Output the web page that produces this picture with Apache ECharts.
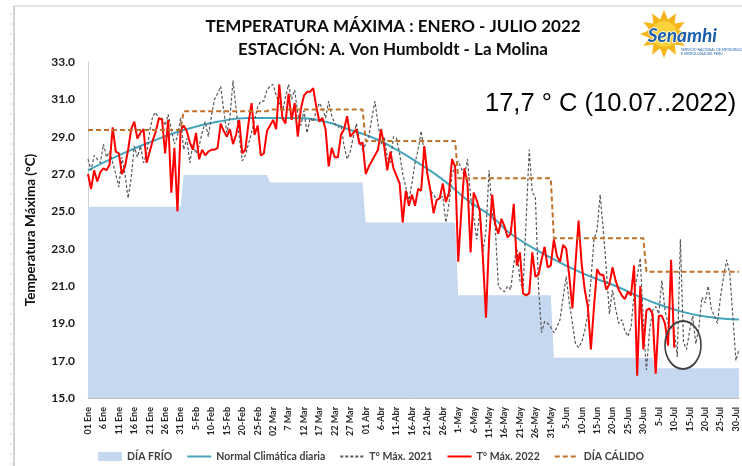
<!DOCTYPE html>
<html>
<head>
<meta charset="utf-8">
<script src="https://cdn.jsdelivr.net/npm/echarts@6/dist/echarts.min.js"></script>
<style>
  html, body { margin: 0; padding: 0; background: #fff; }
  #chart { width: 742px; height: 466px; }
</style>
</head>
<body>
<div id="chart"></div>
<script>
// etiquetas del eje x (cada 5 dias, 01 Ene .. 30 Jul)
var tickLabels = ['01 Ene', '6 Ene', '11 Ene', '16 Ene', '21 Ene', '26 Ene', '31 Ene',
  '5-Feb', '10-Feb', '15-Feb', '20-Feb', '25-Feb',
  '02 Mar', '7 Mar', '12 Mar', '17 Mar', '22 Mar', '27 Mar',
  '01 Abr', '6-Abr', '11-Abr', '16-Abr', '21-Abr', '26-Abr',
  '1-May', '6-May', '11-May', '16-May', '21-May', '26-May', '31-May',
  '5-Jun', '10-Jun', '15-Jun', '20-Jun', '25-Jun', '30-Jun',
  '5-Jul', '10-Jul', '15-Jul', '20-Jul', '25-Jul', '30-Jul'];
var nDays = 212; // 01 Ene .. 31 Jul

// T max 2022 (01 Ene .. 10 Jul)
var tmax2022 = [
  27.0, 26.2, 27.2, 26.6, 27.1, 27.3, 27.2, 27.5, 29.5, 28.2, 28.1, 27.0, 27.4, 28.3, 29.4, 29.8,
  28.9, 29.2, 29.4, 27.6, 28.2, 28.8, 29.3, 30.0, 29.9, 28.1, 29.9, 26.0, 28.4, 25.0, 29.3,
  29.6, 29.3, 28.7, 28.3, 29.2, 27.8, 28.3, 28.0, 28.2, 28.3, 28.3, 28.4, 29.7, 29.3, 29.0, 29.4,
  28.6, 29.1, 29.9, 28.1, 28.3, 29.7, 30.8, 29.1, 29.6, 28.0, 28.1, 29.3,
  29.6, 29.9, 29.4, 31.8, 30.0, 29.7, 31.3, 29.9, 30.8, 29.0, 30.5, 31.2, 31.4, 31.4, 31.6, 30.6,
  29.8, 30.0, 29.4, 27.4, 28.4, 27.9, 27.9, 29.1, 29.4, 30.1, 29.0, 29.2, 29.4, 28.6, 28.7,
  27.0, 27.4, 27.7, 28.0, 28.3, 29.4, 28.5, 27.2, 28.2, 27.3, 26.9, 26.5, 24.4, 26.1, 25.3,
  25.9, 25.3, 26.2, 26.1, 28.5, 27.0, 26.1, 24.9, 25.6, 25.7, 26.5, 25.5, 26.0, 27.8, 27.4,
  22.3, 25.0, 27.3, 26.5, 22.8, 26.0, 25.6, 25.0, 22.5, 19.3, 23.5, 25.9, 24.3, 23.8, 24.6, 24.2,
  23.6, 23.8, 25.4, 22.1, 22.8, 20.6, 20.5, 20.6, 22.8, 21.5, 21.6, 22.4, 23.1, 22.0, 22.1,
  23.5, 22.6, 22.3, 23.2, 23.0, 21.5, 19.8, 22.2, 24.5, 22.2, 20.8, 19.9, 17.6, 19.9, 21.9,
  21.6, 21.6, 20.8, 21.1, 22.0, 21.3, 20.8, 20.5, 20.3, 20.7, 20.5, 22.1, 16.2, 21.0, 17.6,
  19.7, 19.8, 19.5, 16.3, 19.4, 19.4, 19.0, 17.8, 22.4, 17.7
];

// T max 2021 (01 Ene .. 31 Jul)
var tmax2021 = [
  27.8, 27.2, 28.0, 27.8, 27.6, 28.6, 27.9, 28.2, 27.6, 27.0, 26.3, 27.9, 27.0, 25.7, 26.8, 28.5,
  27.9, 28.5, 27.6, 28.1, 29.3, 30.1, 30.3, 29.9, 30.0, 29.6, 30.2, 29.4, 28.6, 29.0, 30.0,
  28.3, 28.9, 27.6, 28.6, 28.1, 28.5, 29.2, 29.8, 29.0, 30.1, 31.0, 31.3, 31.7, 30.4, 29.2, 30.0,
  32.0, 30.5, 29.0, 27.7, 28.0, 28.6, 29.2, 29.9, 30.6, 30.9, 30.9, 31.5,
  31.7, 31.8, 31.2, 30.8, 30.3, 31.1, 31.8, 31.0, 31.5, 30.2, 29.6, 30.4, 29.2, 30.0, 29.8, 30.4,
  30.8, 30.5, 30.0, 30.9, 30.1, 29.7, 29.5, 29.6, 28.5, 27.8, 28.2, 29.0, 29.7, 28.8, 28.3,
  28.6, 29.0, 30.0, 30.9, 29.7, 28.6, 29.0, 27.9, 27.6, 29.0, 28.9, 28.1, 27.0, 26.3, 25.6,
  26.5, 27.6, 28.3, 29.3, 28.1, 27.0, 26.1, 25.9, 25.6, 25.7, 25.8, 24.4, 25.4, 27.0, 27.4,
  27.7, 27.3, 26.9, 27.8, 25.8, 24.7, 23.5, 25.1, 22.8, 24.0, 27.2, 24.9, 24.2, 21.0, 20.8, 20.7,
  21.0, 20.8, 22.2, 23.0, 21.3, 20.8, 24.5, 28.3, 26.0, 25.8, 21.0, 18.5, 19.1, 19.0, 18.8,
  18.5, 18.8, 19.2, 20.4, 21.5, 20.1, 19.0, 17.9, 17.7, 18.0, 18.6, 19.5, 21.3, 23.5, 24.0,
  25.9, 24.0, 21.9, 19.5, 20.8, 19.8, 19.0, 19.2, 18.6, 18.3, 18.8, 20.6, 21.5, 22.5, 19.0,
  16.5, 18.6, 19.7, 19.9, 19.5, 21.3, 19.7, 19.0, 18.8, 18.6, 17.2, 23.5, 18.0, 17.6, 18.6, 19.4,
  17.9, 18.8, 20.4, 20.1, 21.0, 19.8, 19.4, 19.0, 20.4, 21.5, 22.4, 21.7, 19.4, 17.0, 17.6
];

// normal climatica diaria [dia, valor]
var normal = [[0, 27.2], [10, 28.0], [20, 28.7], [31, 29.36], [42, 29.8], [52, 30.0], [66, 30.0],
  [77, 29.8], [85, 29.36], [93, 28.9], [100, 28.3], [107, 27.6], [115, 26.7], [123, 25.6],
  [131, 24.7], [137, 23.8], [149, 22.6], [160, 21.7], [171, 21.0], [182, 20.2], [193, 19.6],
  [203, 19.3], [211, 19.2]];

// umbral dia frio / dia calido por mes [dia, valor]
var diaFrio = [[0, 25.25], [30, 25.25], [31, 26.95], [58, 26.95], [59, 26.55], [89, 26.55],
  [90, 24.4], [119, 24.4], [120, 20.5], [150, 20.5], [151, 17.15], [183, 17.15], [184, 16.6], [211, 16.6]];
var diaCalido = [[0, 29.36], [30, 29.36], [31, 30.36], [58, 30.36], [59, 30.45], [89, 30.45],
  [90, 28.77], [119, 28.77], [120, 26.77], [150, 26.77], [151, 23.56], [180, 23.56], [181, 21.77], [211, 21.77]];

var categories = [];
for (var i = 0; i < nDays; i++) {
  categories.push(i % 5 === 0 ? tickLabels[i / 5] : 'd' + i);
}

var FONT = 'Lato';
var myChart = echarts.init(document.getElementById('chart'));

// puntitos del borde izquierdo de la diapositiva
var dots = [];
for (var k = 0; k < 46; k++) {
  dots.push({ type: 'circle', shape: { cx: 11, cy: 14 + k * 10, r: 1 }, style: { fill: '#e3dfcf' }, silent: true });
}

// leyenda: solo la linea, sin el circulito
var noDot = { opacity: 0 };

var option = {
  backgroundColor: '#fff',
  animation: false,
  title: {
    text: 'TEMPERATURA MÁXIMA : ENERO - JULIO 2022',
    subtext: 'ESTACIÓN: A. Von Humboldt - La Molina',
    left: 388,
    textAlign: 'center',
    top: 13,
    itemGap: 6,
    textStyle: { fontFamily: FONT, fontWeight: 'bold', fontSize: 17, color: '#0d0d0d' },
    subtextStyle: { fontFamily: FONT, fontWeight: 'bold', fontSize: 17, color: '#0d0d0d' }
  },
  grid: { left: 88, right: 3, top: 62, bottom: 68, containLabel: false },
  legend: {
    top: 446,
    left: 'center',
    itemWidth: 24,
    itemHeight: 9,
    itemGap: 14,
    textStyle: { fontFamily: FONT, fontWeight: 'bold', fontSize: 10.5, color: '#404040' },
    data: [
      { name: 'DÍA FRÍO', icon: 'rect' },
      { name: 'Normal Climática diaria', itemStyle: noDot },
      { name: 'T° Máx. 2021', itemStyle: noDot },
      { name: 'T° Máx. 2022', itemStyle: noDot },
      { name: 'DÍA CÁLIDO', itemStyle: noDot }
    ]
  },
  xAxis: {
    type: 'category',
    boundaryGap: false,
    data: categories,
    axisLine: { lineStyle: { color: '#bfbfbf', width: 1 } },
    axisTick: { show: false },
    axisLabel: {
      interval: function (index) { return index % 5 === 0; },
      rotate: 90,
      margin: 9,
      fontFamily: FONT,
      fontWeight: 'bold',
      fontSize: 9,
      color: '#262626'
    },
    splitLine: { show: false }
  },
  yAxis: {
    type: 'value',
    min: 15,
    max: 33,
    interval: 2,
    name: 'Temperatura Máxima (°C)',
    nameLocation: 'middle',
    nameGap: 50,
    nameTextStyle: { fontFamily: FONT, fontWeight: 'bold', fontSize: 13.5, color: '#0d0d0d' },
    axisLine: { show: true, lineStyle: { color: '#d0d0d0' } },
    axisTick: { show: false },
    splitLine: { show: false },
    axisLabel: {
      margin: 13,
      fontFamily: FONT,
      fontWeight: 'bold',
      fontSize: 12,
      color: '#1a1a1a',
      formatter: function (v) { return v.toFixed(1); }
    }
  },
  series: [
    {
      name: 'DÍA FRÍO',
      type: 'line',
      data: diaFrio,
      symbol: 'none',
      itemStyle: { color: '#c6d8f0' },
      lineStyle: { width: 0, color: '#c6d8f0' },
      areaStyle: { color: '#c6d8f0', opacity: 1, origin: 'start' },
      z: 1
    },
    {
      name: 'Normal Climática diaria',
      type: 'line',
      data: normal,
      smooth: true,
      symbol: 'none',
      itemStyle: { color: '#45a5bd' },
      lineStyle: { width: 2, color: '#45a5bd' },
      z: 2
    },
    {
      name: 'T° Máx. 2021',
      type: 'line',
      data: tmax2021,
      symbol: 'none',
      itemStyle: { color: '#595959' },
      lineStyle: { width: 1.2, color: '#595959', type: [3, 2] },
      z: 3
    },
    {
      name: 'T° Máx. 2022',
      type: 'line',
      data: tmax2022,
      symbol: 'none',
      itemStyle: { color: '#ff0000' },
      lineStyle: { width: 2, color: '#ff0000' },
      z: 4
    },
    {
      name: 'DÍA CÁLIDO',
      type: 'line',
      data: diaCalido,
      symbol: 'none',
      itemStyle: { color: '#c0722c' },
      lineStyle: { width: 2, color: '#c0722c', type: [5, 3] },
      z: 5
    }
  ],
  graphic: [
    { type: 'line', shape: { x1: 14, y1: 6, x2: 742, y2: 6 }, style: { stroke: '#c8c8c8', lineWidth: 1 }, silent: true },
    { type: 'line', shape: { x1: 14, y1: 6, x2: 14, y2: 466 }, style: { stroke: '#a6a6a6', lineWidth: 1 }, silent: true },
    { type: 'group', children: dots },
    {
      type: 'text', left: 485, top: 91,
      style: { text: '17,7 ° C (10.07..2022)', fontFamily: 'Liberation Sans', fontSize: 25.5, fill: '#000' }
    },
    {
      type: 'text', left: 382, top: 368,
      style: { text: 'Día frío', fontFamily: FONT, fontSize: 25, fill: '#1f62b0' }
    },
    {
      type: 'circle', shape: { cx: 0, cy: 0, r: 18 }, x: 683, y: 345, scaleY: 1.33,
      style: { fill: 'none', stroke: '#404040', lineWidth: 1.6 }, z: 10
    },
    // logo Senamhi
    {
      type: 'polygon', z: 10,
      shape: { points: (function () {
        var pts = [];
        for (var j = 0; j < 24; j++) {
          var a = j * Math.PI / 12 - Math.PI / 2;
          var r = j % 2 === 0 ? 24 : 15;
          pts.push([664 + r * Math.cos(a), 34 + r * Math.sin(a)]);
        }
        return pts;
      })() },
      style: { fill: '#f7b51c' }
    },
    { type: 'circle', z: 10, shape: { cx: 664, cy: 34, r: 13 }, style: { fill: '#fbd23b' } },
    {
      type: 'text', left: 647, top: 26, z: 11,
      style: { text: 'Senamhi', fontFamily: FONT, fontWeight: 'bold', fontStyle: 'italic', fontSize: 19, fill: '#1b5fab', stroke: '#fff', lineWidth: 1.5 }
    },
    {
      type: 'text', left: 681, top: 48, z: 11,
      style: { text: 'SERVICIO NACIONAL DE METEOROLOGÍA\nE HIDROLOGÍA DEL PERÚ', fontFamily: FONT, fontSize: 3.5, lineHeight: 4, fill: '#1b5fab' }
    }
  ]
};

option && myChart.setOption(option);
</script>
</body>
</html>
